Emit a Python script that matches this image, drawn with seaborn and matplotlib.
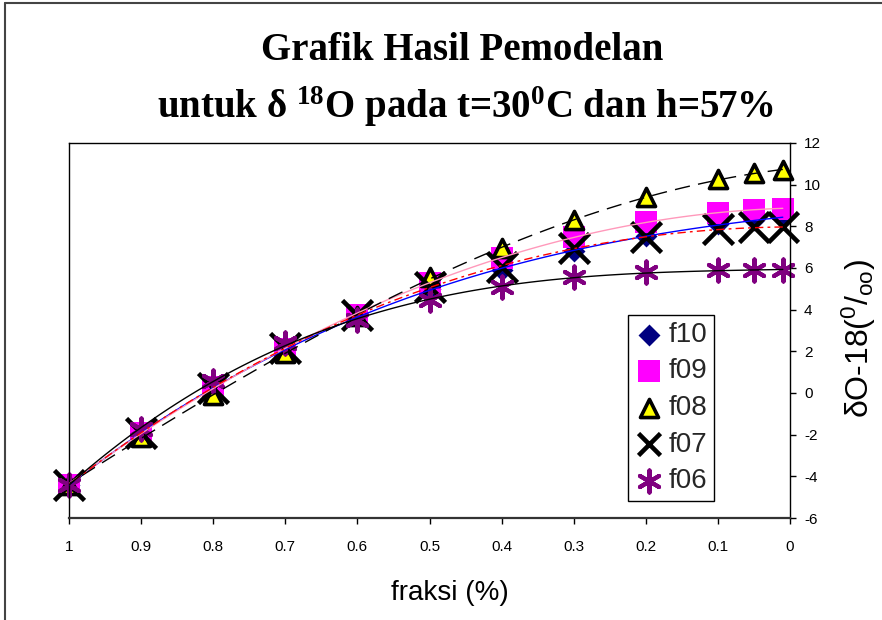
import matplotlib
matplotlib.use("Agg")
import matplotlib.pyplot as plt
from matplotlib.lines import Line2D
import seaborn as sns
import numpy as np

# ---------------- data ----------------
fraksi = [1, 0.9, 0.8, 0.7, 0.6, 0.5, 0.4, 0.3, 0.2, 0.1, 0.05, 0.01]
f10 = [-4.4, -1.95, 0.25, 2.05, 3.7, 5.0, 5.9, 6.8, 7.55, 8.1, 8.3, 8.4]
f09 = [-4.4, -1.9, 0.3, 2.1, 3.75, 5.3, 6.5, 7.5, 8.2, 8.65, 8.8, 8.85]
f08 = [-4.4, -2.1, -0.1, 1.9, 3.7, 5.55, 6.95, 8.3, 9.4, 10.25, 10.55, 10.7]
f07 = [-4.4, -1.9, 0.25, 2.15, 3.75, 5.1, 6.05, 6.95, 7.5, 7.85, 7.95, 7.95]
f06 = [-4.4, -1.75, 0.6, 2.4, 3.5, 4.45, 5.1, 5.55, 5.8, 5.9, 5.9, 5.9]
series_names = ["f10", "f09", "f08", "f07", "f06"]
x_ticks = [1, 0.9, 0.8, 0.7, 0.6, 0.5, 0.4, 0.3, 0.2, 0.1, 0]
x_tick_labels = ["1", "0.9", "0.8", "0.7", "0.6", "0.5", "0.4", "0.3", "0.2", "0.1", "0"]
y_ticks = [-6, -4, -2, 0, 2, 4, 6, 8, 10, 12]

# ---------------- style ----------------
sns.set_theme(style="white")
plt.rcParams["font.family"] = ["Liberation Sans", "DejaVu Sans"]
plt.rcParams["mathtext.default"] = "regular"
plt.rcParams["axes.unicode_minus"] = False

fig = plt.figure(figsize=(8.82, 6.2), dpi=100)
ax = fig.add_axes([69 / 882, 1 - 518 / 620, (790 - 69) / 882, (518 - 143) / 620])

values = [f10, f09, f08, f07, f06]
marker_styles = [
    dict(marker="D", s=125, color="#000080", linewidth=0),
    dict(marker="s", s=250, color="#ff00ff", linewidth=0),
    dict(marker="^", s=170, color="#ffff00", edgecolor="black", linewidth=2.6),
    dict(marker="x", s=466, color="black", linewidth=3.3),
    dict(marker=(6, 2, 0), s=250, color="#800080", linewidth=3.0),
]
legend_sizes = [125, 250, 170, 250, 250]
line_styles = [
    dict(color="#0000ff", lw=1.0, ls="-"),
    dict(color="#ff99bb", lw=1.0, ls="-"),
    dict(color="black", lw=1.0, dashes=(11, 6)),
    dict(color="#ff0000", lw=1.0, dashes=(6, 3, 2, 3)),
    dict(color="black", lw=1.0, ls="-"),
]

handles = []
for name, vals, ms in zip(series_names, values, marker_styles):
    sns.scatterplot(x=fraksi, y=vals, ax=ax, label=name, zorder=2,
                    clip_on=False, **ms)
    handles.append(ax.collections[-1])

for vals, lsty in zip(values, line_styles):
    sns.regplot(x=np.array(fraksi), y=np.array(vals), order=3, ci=None,
                scatter=False, ax=ax, line_kws=dict(zorder=5, **lsty))

ax.set_xlim(1, 0)
ax.set_ylim(-6, 12)
ax.set_xticks(x_ticks)
ax.set_xticklabels(x_tick_labels)
ax.set_yticks(y_ticks)
ax.yaxis.tick_right()
ax.tick_params(axis="x", direction="out", length=4, width=1, pad=12,
               labelsize=11, colors="black", bottom=True)
ax.tick_params(axis="y", direction="out", length=4, width=1, pad=6,
               labelsize=11, colors="black", right=True, left=False,
               labelright=True, labelleft=False)
for side, sp in ax.spines.items():
    sp.set_visible(True)
    sp.set_color("black")
    sp.set_linewidth(1.0)
ax.spines["bottom"].set_linewidth(1.6)
ax.spines["bottom"].set_color("#333333")

ax.set_xlabel("fraksi (%)", fontsize=20, color="black")
ax.xaxis.set_label_coords((450 - 69) / 721, (518 - 580) / 375)
ax.set_ylabel(r"δO-18($^{0}$/$_{oo}$)", fontsize=23, color="black")
ax.yaxis.set_label_position("right")
ax.yaxis.label.set_rotation(90)
ax.yaxis.set_label_coords((840 - 69) / 721, (518 - 339) / 375)

leg = ax.legend(handles=handles, labels=series_names, loc="upper left",
                bbox_to_anchor=((628 - 69) / 721, (518 - 315) / 375),
                borderaxespad=0, fontsize=20, frameon=True, fancybox=False,
                framealpha=1, edgecolor="black", borderpad=0.25,
                handlelength=1.0, handletextpad=0.2, labelspacing=0.38)
leg.get_frame().set_linewidth(1.0)
leg.set_zorder(10)
for h, s in zip(leg.legend_handles, legend_sizes):
    h.set_sizes([s])

# titles
fig.text(462 / 882, 1 - 60 / 620, "Grafik Hasil Pemodelan", ha="center",
         va="baseline", fontsize=28, fontweight="bold",
         family=["Liberation Serif", "DejaVu Serif"], color="black")
fig.text(465 / 882, 1 - 118 / 620,
         r"untuk δ $^{18}$O pada t=30$^{0}$C dan h=57%", ha="center",
         va="baseline", fontsize=28, fontweight="bold",
         family=["Liberation Serif", "DejaVu Serif"], color="black")

# outer chart border (left and top only visible)
fig.add_artist(Line2D([5 / 882, 5 / 882], [0, 1 - 3 / 620],
                      transform=fig.transFigure, color="#444444", lw=1.5))
fig.add_artist(Line2D([5 / 882, 1], [1 - 3 / 620, 1 - 3 / 620],
                      transform=fig.transFigure, color="#444444", lw=1.5))

fig.savefig("out.png", dpi=100, facecolor="white")
